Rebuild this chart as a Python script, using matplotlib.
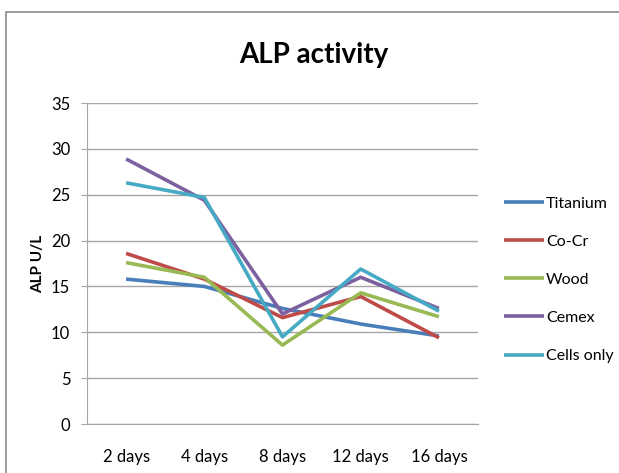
import matplotlib
matplotlib.use("Agg")
import matplotlib.pyplot as plt
from matplotlib.patches import Rectangle

categories = ["2 days", "4 days", "8 days", "12 days", "16 days"]
titanium = [15.8, 15.0, 12.6, 10.9, 9.6]
cocr = [18.6, 15.8, 11.6, 13.9, 9.4]
wood = [17.6, 16.0, 8.6, 14.3, 11.7]
cemex = [28.9, 24.4, 12.0, 16.0, 12.6]
cells_only = [26.3, 24.7, 9.5, 16.9, 12.3]

series = [
    ("Titanium", titanium, "#4a7ebb"),
    ("Co-Cr", cocr, "#be4b48"),
    ("Wood", wood, "#98b954"),
    ("Cemex", cemex, "#7d60a0"),
    ("Cells only", cells_only, "#46aac5"),
]

plt.rcParams['font.family'] = ['Lato', 'DejaVu Sans']

fig = plt.figure(figsize=(6.19, 4.73), dpi=100)
fig.patches.append(Rectangle((6/619, -0.05), 1.0, (473-12)/473 + 0.05,
                             transform=fig.transFigure, fill=False,
                             edgecolor="#8c8c8c", linewidth=1.2))

ax = fig.add_axes([87/619, (473-424)/473, (478-87)/619, (424-103)/473])
x = list(range(len(categories)))
for name, vals, color in series:
    ax.plot(x, vals, color=color, linewidth=2.6, label=name, solid_capstyle='butt')

ax.set_xlim(-0.5, len(categories) - 0.5)
ax.set_ylim(0, 35)
ax.set_yticks(range(0, 36, 5))
ax.set_xticks(x)
ax.set_xticklabels(categories)
ax.grid(axis='y', color='#a6a6a6', linewidth=1)
ax.set_axisbelow(True)
for s in ['top', 'right']:
    ax.spines[s].set_visible(False)
for s in ['left', 'bottom']:
    ax.spines[s].set_color('#a6a6a6')
ax.tick_params(axis='y', length=4, color='#a6a6a6', labelsize=12, pad=8)
ax.tick_params(axis='x', length=0, labelsize=12, pad=18)
ax.set_ylabel("ALP U/L", fontsize=11, fontweight='bold', labelpad=4)
fig.text(0.5 * (87 + 540) / 619, (473 - 55) / 473, "ALP activity", ha='center', va='center',
         fontsize=20, fontweight='bold')

leg = ax.legend(loc='upper left', bbox_to_anchor=(490/619, (473-182)/473),
                bbox_transform=fig.transFigure, frameon=False, fontsize=11.5,
                handlelength=2.5, handletextpad=0.1, labelspacing=1.5)

fig.savefig("out.png", dpi=100)
